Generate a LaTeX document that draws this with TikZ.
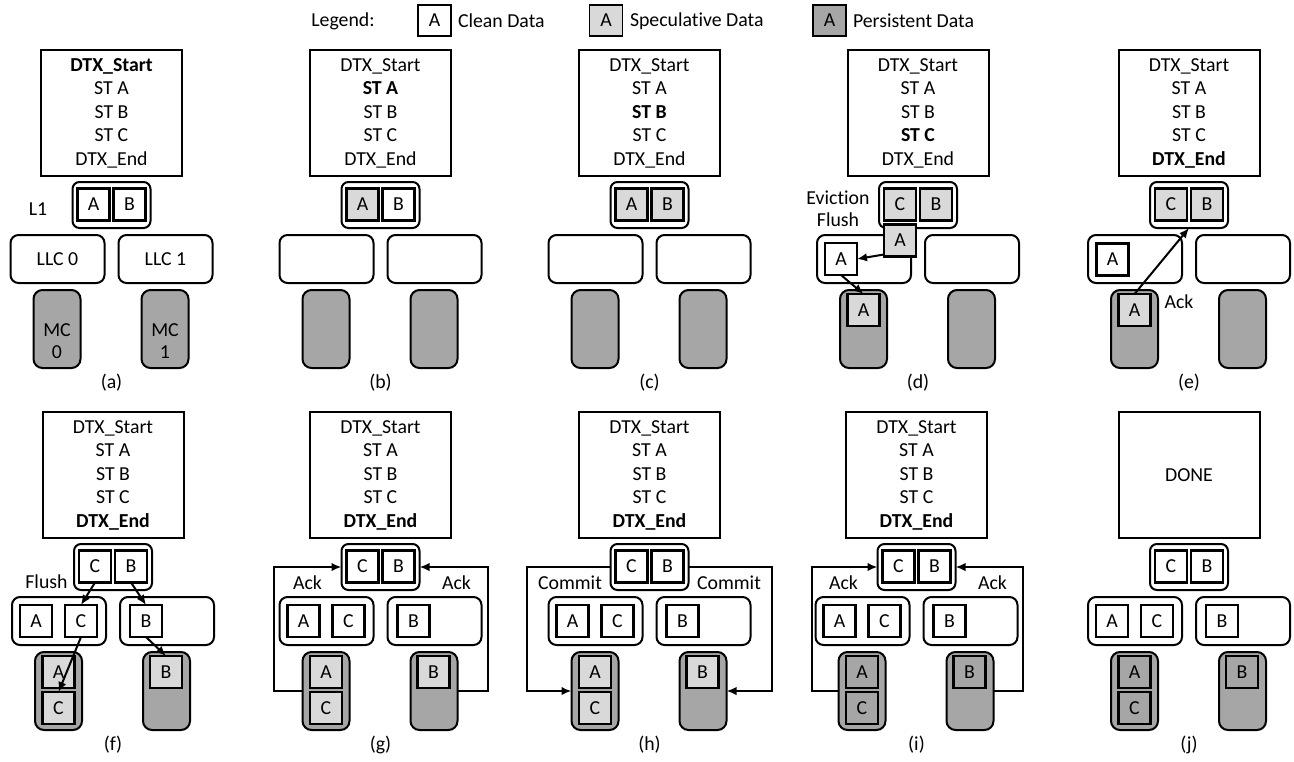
\documentclass[tikz,border=0pt]{standalone}
\usepackage{fontspec}
\setmainfont[Ligatures=NoCommon]{Carlito}
\usetikzlibrary{arrows.meta}
\definecolor{specgray}{HTML}{D9D9D9}
\definecolor{persgray}{HTML}{A6A6A6}
\tikzset{
  every node/.style={font=\fontsize{19.8}{23.5}\selectfont, inner sep=0pt, outer sep=0pt},
  box/.style={draw, line width=2pt},
  prog/.style={box, minimum width=141pt, minimum height=126pt, align=center},
  lone/.style={box, rounded corners=7pt, minimum width=78pt, minimum height=46pt},
  llc/.style={box, rounded corners=8pt, minimum width=94pt, minimum height=48pt},
  mc/.style={box, rounded corners=9pt, fill=persgray, minimum width=47pt, minimum height=78pt},
  cell/.style={draw, line width=2.4pt, minimum width=32pt, minimum height=32pt, fill=white},
  spec/.style={cell, fill=specgray},
  pers/.style={cell, fill=persgray},
  legbox/.style={draw, line width=1.5pt, minimum width=33pt, minimum height=31pt},
  arr/.style={line width=2pt, -{Latex[length=10pt,width=8.5pt]}},
}
% skeleton: #1 name, #2 cx, #3 dy, #4 label, #5 llc0 text, #6 llc1 text
\newcommand\skel[6]{%
  \node[llc] (#1-llc0) at ({#2-54},{#3+259}) {#5};
  \node[llc] (#1-llc1) at ({#2+54},{#3+259}) {#6};
  \node[mc] (#1-mc0) at ({#2-54.5},{#3+329}) {};
  \node[mc] (#1-mc1) at ({#2+53.5},{#3+329}) {};
  \node[lone] (#1-l1) at (#2,{#3+205}) {};
  \node (#1-lab) at (#2,{#3+383}) {(#4)};
}
\newcommand\prog[4]{%
  \node[prog] (#1-prog) at (#2,{#3+113}) {#4};
}
% cells of panels f-j: #1 name, #2 cx, #3 dy, #4 MC cell style
\newcommand\lowcells[4]{%
  \node[cell] (#1-l1C) at ({#2-18},{#3+204.5}) {C};
  \node[cell] (#1-l1B) at ({#2+18},{#3+204.5}) {B};
  \node[cell] (#1-lA) at ({#2-77},{#3+259}) {A};
  \node[cell] (#1-lC) at ({#2-32},{#3+259}) {C};
  \node[cell] (#1-lB) at ({#2+33},{#3+259}) {B};
  \node[#4] (#1-mA) at ({#2-54.5},{#3+310}) {A};
  \node[#4] (#1-mC) at ({#2-54.5},{#3+346}) {C};
  \node[#4] (#1-mB) at ({#2+53},{#3+310}) {B};
}
\begin{document}
\begin{tikzpicture}[x=1pt,y=-1pt]
\useasboundingbox (0,0) rectangle (1294,761);

% legend
\node (leg) at (343,21) {Legend:};
\node[legbox] (leg1) at (434.5,20.5) {A};
\node[anchor=west] (leg1t) at (458,21) {Clean Data};
\node[legbox, fill=specgray] (leg2) at (606,20.5) {A};
\node[anchor=west] (leg2t) at (630,21) {Speculative Data};
\node[legbox, fill=persgray] (leg3) at (829.5,20.5) {A};
\node[anchor=west] (leg3t) at (853,21) {Persistent Data};

% (a)
\prog{a}{111.5}{0}{\textbf{DTX\_Start}\\ST A\\ST B\\ST C\\DTX\_End}
\skel{a}{111.5}{0}{a}{LLC 0}{LLC 1}
\node[cell] (a-l1A) at (93.5,204.5) {A};
\node[cell] (a-l1B) at (129.5,204.5) {B};
\node (a-l1t) at (38,209) {L1};
\node[align=center, font=\fontsize{19.8}{22}\selectfont] (a-mc0t) at (57,341) {MC\\0};
\node[align=center, font=\fontsize{19.8}{22}\selectfont] (a-mc1t) at (165,341) {MC\\1};

% (b)
\prog{b}{380.5}{0}{DTX\_Start\\\textbf{ST A}\\ST B\\ST C\\DTX\_End}
\skel{b}{380.5}{0}{b}{}{}
\node[spec] (b-l1A) at (362.5,204.5) {A};
\node[cell] (b-l1B) at (398.5,204.5) {B};

% (c)
\prog{c}{649.5}{0}{DTX\_Start\\ST A\\\textbf{ST B}\\ST C\\DTX\_End}
\skel{c}{649.5}{0}{c}{}{}
\node[spec] (c-l1A) at (631.5,204.5) {A};
\node[spec] (c-l1B) at (667.5,204.5) {B};

% (d)
\prog{d}{918}{0}{DTX\_Start\\ST A\\ST B\\\textbf{ST C}\\DTX\_End}
\skel{d}{918}{0}{d}{}{}
\node[spec] (d-l1C) at (900,204.5) {C};
\node[spec] (d-l1B) at (936,204.5) {B};
\node[cell] (d-lA) at (841,259) {A};
\node[spec] (d-fA) at (900,240.5) {A};
\node[spec] (d-mA) at (863.5,310) {A};
\node[align=center, font=\fontsize{19.8}{22}\selectfont] (d-ev) at (838,209) {Eviction\\Flush};
\draw[arr] ([yshift=2pt]d-fA.south west) -- (d-lA.east);
\draw[arr] (d-lA.south) -- (d-mA.north);

% (e)
\prog{e}{1189}{0}{DTX\_Start\\ST A\\ST B\\ST C\\\textbf{DTX\_End}}
\skel{e}{1189}{0}{e}{}{}
\node[spec] (e-l1C) at (1171,204.5) {C};
\node[spec] (e-l1B) at (1207,204.5) {B};
\node[cell] (e-lA) at (1112.5,259.5) {A};
\node[spec] (e-mA) at (1134.5,310) {A};
\draw[arr] (e-mA.north) -- (e-l1.south);
\node (e-ack) at (1179,302) {Ack};

% (f)
\prog{f}{113}{362}{DTX\_Start\\ST A\\ST B\\ST C\\\textbf{DTX\_End}}
\skel{f}{113}{362}{f}{}{}
\lowcells{f}{113}{362}{spec}
\node (f-fl) at (46.5,582) {Flush};
\draw[arr] (f-l1C.south) -- (f-lC.north);
\draw[arr] (f-l1B.south) -- (f-lB.north);
\draw[arr] (f-lC.south) -- (f-mC.north);
\draw[arr] (f-lB.south) -- (f-mB.north);

% (g)
\prog{g}{380.5}{362}{DTX\_Start\\ST A\\ST B\\ST C\\\textbf{DTX\_End}}
\skel{g}{380.5}{362}{g}{}{}
\lowcells{g}{380.5}{362}{spec}
\draw[arr] (g-mc0.west) -- ++(-28.5,0) |- (g-l1.west);
\draw[arr] (g-mc1.east) -- ++(30,0) |- (g-l1.east);
\node (g-ack0) at (307.5,583) {Ack};
\node (g-ack1) at (456.5,583) {Ack};

% (h)
\prog{h}{649.5}{362}{DTX\_Start\\ST A\\ST B\\ST C\\\textbf{DTX\_End}}
\skel{h}{649.5}{362}{h}{}{}
\lowcells{h}{649.5}{362}{spec}
\draw[arr] (h-l1.west) -- ++(-83.5,0) |- (h-mc0.west);
\draw[arr] (h-l1.east) -- ++(83.5,0) |- (h-mc1.east);
\node (h-cm0) at (570,583) {Commit};
\node (h-cm1) at (729,583) {Commit};

% (i)
\prog{i}{916.5}{362}{DTX\_Start\\ST A\\ST B\\ST C\\\textbf{DTX\_End}}
\skel{i}{916.5}{362}{i}{}{}
\lowcells{i}{916.5}{362}{pers}
\draw[arr] (i-mc0.west) -- ++(-26.5,0) |- (i-l1.west);
\draw[arr] (i-mc1.east) -- ++(29.5,0) |- (i-l1.east);
\node (i-ack0) at (843.5,583) {Ack};
\node (i-ack1) at (992.5,583) {Ack};

% (j)
\prog{j}{1189}{362}{DONE}
\skel{j}{1189}{362}{j}{}{}
\lowcells{j}{1189}{362}{pers}
\end{tikzpicture}
\end{document}
